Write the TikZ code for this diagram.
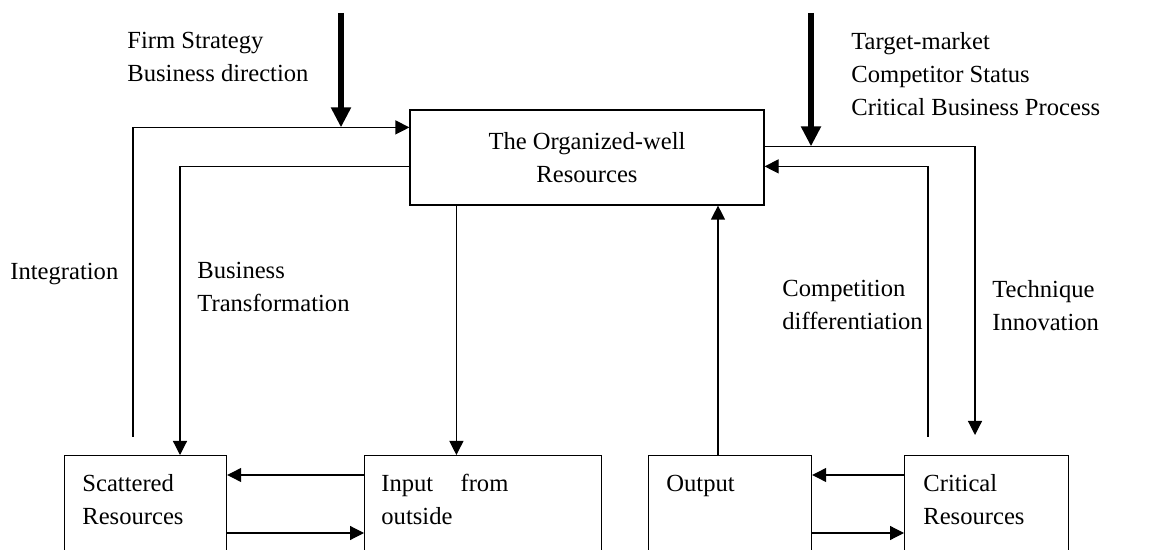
\documentclass[tikz,border=0pt]{standalone}
\usepackage{fontspec}
\setmainfont{Liberation Serif}
\usetikzlibrary{positioning,arrows.meta,calc}
\tikzset{
  box/.style    = {rectangle, draw, line width=0.6pt, anchor=north west,
                   inner sep=0pt, minimum height=60pt},
  txt/.style    = {anchor=north west, inner sep=0pt, align=left,
                   font=\fontsize{12.3}{16.5}\selectfont},
  lab/.style    = {txt},
  arr/.style    = {-{Triangle[length=7pt,width=7pt]}, line width=0.6pt},
  bigarr/.style = {-{Triangle[length=10pt,width=9.5pt]}, line width=3pt}
}

\begin{document}
\begin{tikzpicture}[x=0.5pt, y=-0.5pt]
\clip (0,0) rectangle (1173,550);

% --- Boxes -------------------------------------------------------
\node[box, anchor=center, align=center, minimum width=177pt,
      minimum height=47.5pt, font=\fontsize{12.3}{16.5}\selectfont]
      (org) at (587,157.5) {The Organized-well\\Resources};
\node[box, minimum width=81pt]    (sc)   at (64,455)  {};
\node[box, minimum width=118.5pt] (inp)  at (364,455) {};
\node[box, minimum width=81.5pt]  (outp) at (648,455) {};
\node[box, minimum width=82pt]    (crit) at (904,455) {};

\node[txt] (sctxt) at ($(sc.north west)+(18,19)$) {Scattered\\Resources};
\node[txt, align=justify, text width=63.5pt]
      (inptxt) at ($(inp.north west)+(17,19)$) {Input from outside};
\node[txt] (outtxt)  at ($(outp.north west)+(18,20)$) {Output};
\node[txt] (crittxt) at ($(crit.north west)+(19,19)$) {Critical\\Resources};

% --- Verbindungen ------------------------------------------------
\coordinate (intbot)  at (133,437);
\coordinate (orgA)    at ($(org.north west)+(0,18)$);
\coordinate (orgB)    at ($(org.north west)+(0,57)$);
\coordinate (scT)     at ($(sc.north west)+(116,0)$);
\coordinate (orgC)    at ($(org.south west)+(47,0)$);
\coordinate (outT)    at ($(outp.north west)+(70,0)$);
\coordinate (compbot) at (928,437);
\coordinate (orgD)    at ($(org.north east)+(0,57)$);
\coordinate (orgE)    at ($(org.north east)+(0,37)$);
\coordinate (techend) at (975,435);

\draw[arr] (intbot) |- (orgA);                 % Integration
\draw[arr] (orgB) -| (scT);                    % Transformation
\draw[arr] (orgC) -- (orgC |- inp.north);
\draw[arr] (outT) -- (outT |- org.south);
\draw[arr] (compbot) |- (orgD);                % Competition
\draw[arr] (orgE) -| (techend);                % Technique

\draw[arr] ([yshift=-10pt]inp.north west) -- ([yshift=-10pt]sc.north east);
\draw[arr] ([yshift=-39pt]sc.north east)  -- ([yshift=-39pt]inp.north west);
\draw[arr] ([yshift=-10pt]crit.north west) -- ([yshift=-10pt]outp.north east);
\draw[arr] ([yshift=-39pt]outp.north east) -- ([yshift=-39pt]crit.north west);

% --- Einflüsse von außen -----------------------------------------
\coordinate (fstop) at (341,13);
\coordinate (tmtop) at (811,13);
\draw[bigarr] (fstop) -- (fstop |- orgA);
\draw[bigarr] (tmtop) -- (tmtop |- orgE);

% --- Beschriftungen ----------------------------------------------
\node[lab] (fslab)  at (127,32)  {Firm Strategy\\Business direction};
\node[lab] (tmlab)  at (851,32)  {Target-market\\Competitor Status\\Critical Business Process};
\node[lab] (intlab) at (10,263)  {Integration};
\node[lab] (btlab)  at (197,262) {Business\\Transformation};
\node[lab] (cdlab)  at (782,280) {Competition\\differentiation};
\node[lab] (tilab)  at (992,280) {Technique\\Innovation};
\end{tikzpicture}
\end{document}
